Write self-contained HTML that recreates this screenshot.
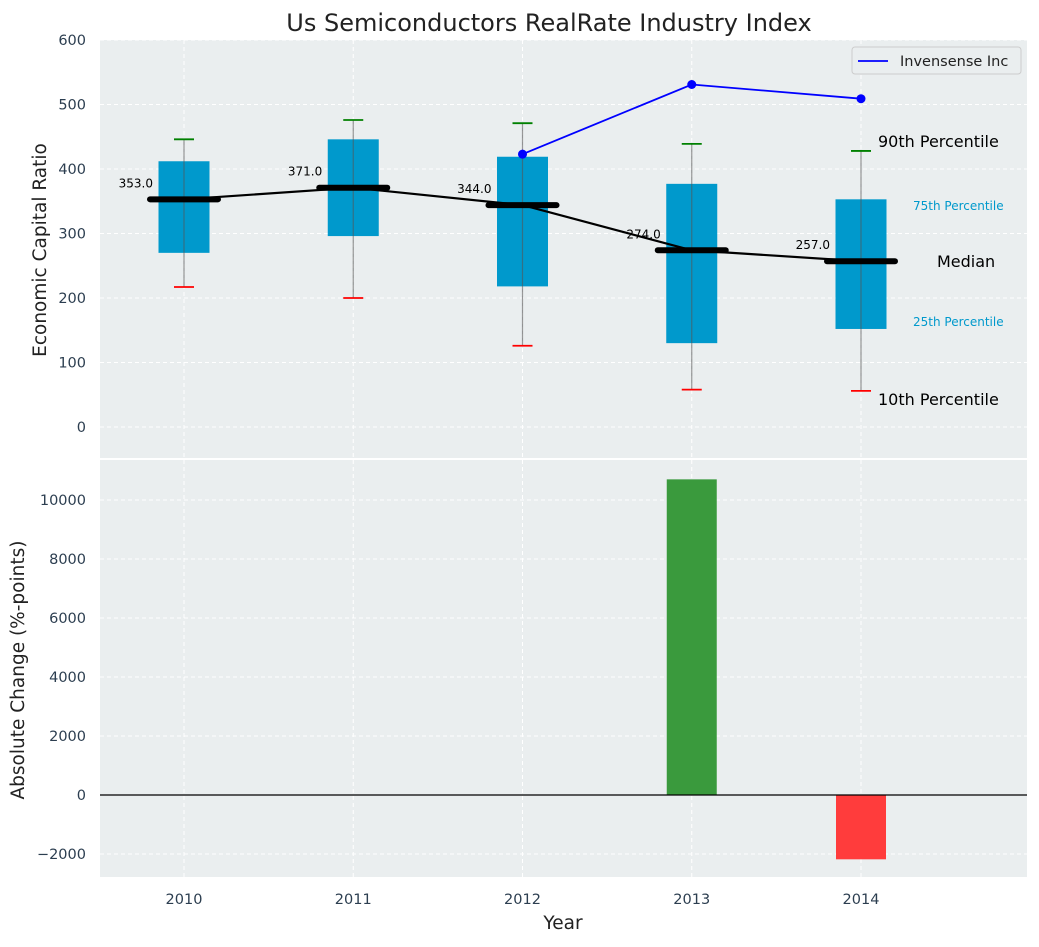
<!DOCTYPE html>
<html><head><meta charset="utf-8"><style>
body{margin:0;background:#fff;}
svg text{font-family:"DejaVu Sans","Liberation Sans",sans-serif;}
</style></head><body>
<svg id="chart" width="1039" height="942" xmlns="http://www.w3.org/2000/svg">
<text x="549" y="31" font-size="24" fill="#222" text-anchor="middle">Us Semiconductors RealRate Industry Index</text>
<g id="topPanel"></g>
<g id="botPanel"></g>
</svg>
<script>
const years=[2010,2011,2012,2013,2014];
const q1=[270,296,218,130,152];
const q3=[412,446,419,377,353];
const med=[353,371,344,274,257];
const p10=[217,200,126,58,56];
const p90=[446,476,471,439,428];
const coYears=[2012,2013,2014];
const coVals=[423,531,509];
const changes=[0,0,0,10700,-2180];
const topTicks=[0,100,200,300,400,500,600];
const botTicks=[-2000,0,2000,4000,6000,8000,10000];

const NS="http://www.w3.org/2000/svg";
function el(p,t,a,txt){const e=document.createElementNS(NS,t);for(const k in a)e.setAttribute(k,a[k]);if(txt!==undefined)e.textContent=txt;p.appendChild(e);return e;}
const L=100,R=1027;
const X=v=>184+(v-2010)*169.25;
const Y1=v=>427-0.645*v;
const Y2=v=>795-0.0295*v;
const gTop=document.getElementById('topPanel'),gBot=document.getElementById('botPanel');
let r=el(gTop,'rect',{x:L,y:40,width:R-L,height:418,fill:'#eaeeef'});

r=el(gBot,'rect',{x:L,y:460,width:R-L,height:417,fill:'#eaeeef'});

topTicks.forEach(t=>{
 el(gTop,'line',{x1:L,x2:R,y1:Y1(t),y2:Y1(t),stroke:'#fff','stroke-dasharray':'4,3','stroke-width':1});
 const tx=el(gTop,'text',{x:86,y:Y1(t)+5,'font-size':14.5,fill:'#2c3e50','text-anchor':'end'},t);
 
});
botTicks.forEach(t=>{
 el(gBot,'line',{x1:L,x2:R,y1:Y2(t),y2:Y2(t),stroke:'#fff','stroke-dasharray':'4,3','stroke-width':1});
 const tx=el(gBot,'text',{x:86,y:Y2(t)+5,'font-size':14.5,fill:'#2c3e50','text-anchor':'end'},t<0?'\u2212'+(-t):t);
 
});
years.forEach(y=>{
 el(gTop,'line',{x1:X(y),x2:X(y),y1:40,y2:458,stroke:'#fff','stroke-dasharray':'4,3'});
 el(gBot,'line',{x1:X(y),x2:X(y),y1:460,y2:877,stroke:'#fff','stroke-dasharray':'4,3'});
 const tx=el(gBot,'text',{x:X(y),y:904,'font-size':14.5,fill:'#2c3e50','text-anchor':'middle'},y);
 
});
years.forEach((y,i)=>{
 const x=X(y),w=51;
 const b=el(gTop,'rect',{x:x-w/2,y:Y1(q3[i]),width:w,height:Y1(q1[i])-Y1(q3[i]),fill:'#0099cc'});
 
 el(gTop,'line',{x1:x,x2:x,y1:Y1(p90[i]),y2:Y1(p10[i]),stroke:'#555','stroke-width':1.2,opacity:0.6});
 el(gTop,'line',{x1:x-10,x2:x+10,y1:Y1(p90[i]),y2:Y1(p90[i]),stroke:'green','stroke-width':1.8});
 el(gTop,'line',{x1:x-10,x2:x+10,y1:Y1(p10[i]),y2:Y1(p10[i]),stroke:'red','stroke-width':1.8});
});
let pts=years.map((y,i)=>X(y)+','+Y1(med[i])).join(' ');
let pl=el(gTop,'polyline',{points:pts,fill:'none',stroke:'#000','stroke-width':2.2});

years.forEach((y,i)=>{
 const m=el(gTop,'line',{x1:X(y)-34,x2:X(y)+34,y1:Y1(med[i]),y2:Y1(med[i]),stroke:'#000','stroke-width':6,'stroke-linecap':'round'});
 
 const t=el(gTop,'text',{x:X(y)-31,y:Y1(med[i])-12,'font-size':12,fill:'#000','text-anchor':'end'},med[i].toFixed(1));
 
});
pts=coYears.map((y,i)=>X(y)+','+Y1(coVals[i])).join(' ');
pl=el(gTop,'polyline',{points:pts,fill:'none',stroke:'blue','stroke-width':1.8});

coYears.forEach((y,i)=>{const c=el(gTop,'circle',{cx:X(y),cy:Y1(coVals[i]),r:4.5,fill:'blue'});
 });
[['90th Percentile',878,147,16,'#000'],['75th Percentile',913,210,12,'#0099cc'],['Median',937,267,16,'#000'],['25th Percentile',913,326,12,'#0099cc'],['10th Percentile',878,405,16,'#000']].forEach(a=>{
 const t=el(gTop,'text',{x:a[1],y:a[2],'font-size':a[3],fill:a[4]},a[0]);
 
});
const lg=el(gTop,'g',{});

el(lg,'rect',{x:852,y:47,width:169,height:27,fill:'#eaeeef',stroke:'#ccc',rx:3});
el(lg,'line',{x1:858,x2:888,y1:61,y2:61,stroke:'blue','stroke-width':1.8});
el(lg,'text',{x:900,y:66,'font-size':14.5,fill:'#222'},'Invensense Inc');
years.forEach((y,i)=>{
 if(!changes[i])return;
 const v=changes[i];
 const b=el(gBot,'rect',{x:X(y)-25,y:Math.min(Y2(v),Y2(0)),width:50,height:Math.abs(Y2(v)-Y2(0)),fill:v>0?'#3a9a3d':'#ff3c3c'});
 
});
el(gBot,'line',{x1:L,x2:R,y1:Y2(0),y2:Y2(0),stroke:'#000','stroke-width':1.2});
let t=el(gTop,'text',{x:46,y:250,'font-size':18.5,fill:'#222','text-anchor':'middle',transform:'rotate(-90 46 250)'},'Economic Capital Ratio');

t=el(gBot,'text',{x:24,y:670,'font-size':18.5,fill:'#222','text-anchor':'middle',transform:'rotate(-90 24 670)'},'Absolute Change (%-points)');

t=el(gBot,'text',{x:563,y:929,'font-size':18.5,fill:'#222','text-anchor':'middle'},'Year');

</script>
</body></html>
